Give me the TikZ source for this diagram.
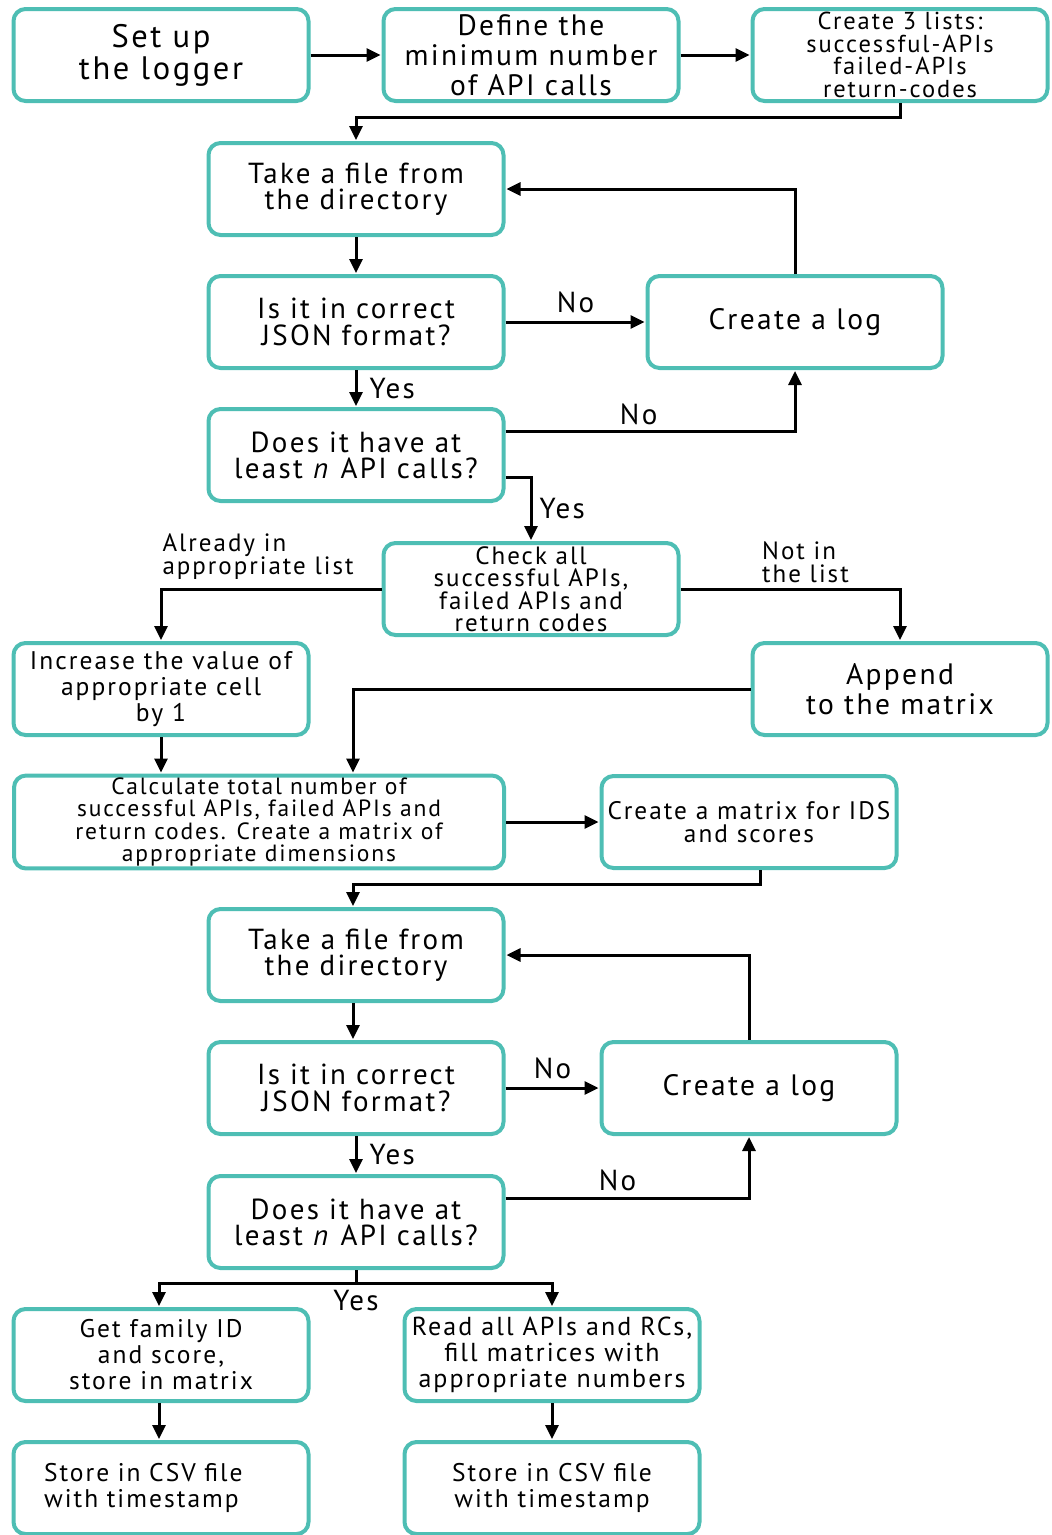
\documentclass[tikz,border=0pt]{standalone}
\usepackage{fontspec}
\setmainfont{PT Sans}[LetterSpace=8]
\usetikzlibrary{arrows.meta,calc}
\definecolor{boxteal}{RGB}{78,190,180}
\newcommand{\fs}[2]{\fontsize{#1}{#2}\selectfont}
\begin{document}
\begin{tikzpicture}[x=1pt,y=-1pt,
  box/.style={draw=boxteal,line width=4pt,rounded corners=12pt,fill=white,
    minimum width=295pt,minimum height=92pt,align=center,inner sep=2pt},
  arr/.style={draw=black,line width=3pt,-{Triangle[length=14pt,width=13pt]},shorten >=1pt},
  lbl/.style={font=\fs{29}{29},inner sep=2pt},
  lblsm/.style={font=\fs{25}{23},inner sep=0pt,align=left}]
\useasboundingbox (0,0) rectangle (1052,1535);

% first pass: collecting API names
\node[box,font=\fs{32.5}{32}] (setup) at (161,55) {Set up\\the logger};
\node[box,font=\fs{29.5}{30}] (define) at (531,55) {Define the\\minimum number\\of API calls};
\node[box,font=\fs{24.5}{22.5}] (lists) at (900,55) {Create 3 lists:\\successful-APIs\\failed-APIs\\return-codes};
\node[box,font=\fs{29}{26}] (take1) at (356,189) {Take a file from\\the directory};
\node[box,font=\fs{29}{27.5}] (json1) at (356,322) {Is it in correct\\JSON format?};
\node[box,font=\fs{29.5}{26}] (log1) at (795,322) {Create a log};
\node[box,font=\fs{29}{26}] (nap1) at (356,455) {Does it have at\\least \textit{n} API calls?};
\node[box,font=\fs{25}{22.5}] (check) at (531,589) {Check all\\successful APIs,\\failed APIs and\\return codes};
\node[box,font=\fs{25.5}{26}] (incr) at (161,689) {Increase the value of\\appropriate cell\\by 1};
\node[box,font=\fs{29.5}{30}] (append) at (900,689) {Append\\to the matrix};
\node[box,font=\fs{23.5}{22.5},minimum width=490pt] (calc) at (259,822) {Calculate total number of\\successful APIs, failed APIs and\\return codes. Create a matrix of\\appropriate dimensions};
\node[box,font=\fs{25.3}{22.5}] (ids) at (749,822) {Create a matrix for IDS\\and scores};

% second pass: filling the matrices
\node[box,font=\fs{29}{26}] (take2) at (356,955) {Take a file from\\the directory};
\node[box,font=\fs{29}{27.5}] (json2) at (356,1088) {Is it in correct\\JSON format?};
\node[box,font=\fs{29.5}{26}] (log2) at (749,1088) {Create a log};
\node[box,font=\fs{29}{26}] (nap2) at (356,1222) {Does it have at\\least \textit{n} API calls?};
\node[box,font=\fs{25.5}{26}] (family) at (161,1355) {Get family ID\\and score,\\store in matrix};
\node[box,font=\fs{26}{26}] (read) at (552,1355) {Read all APIs and RCs,\\fill matrices with\\appropriate numbers};
\node[box,font=\fs{25.5}{26},text width=270pt,align=left] (csv1) at (161,1488) {\hspace*{18pt}Store in CSV file\\\hspace*{18pt}with timestamp};
\node[box,font=\fs{25.5}{26}] (csv2) at (552,1488) {Store in CSV file\\with timestamp};

% branch label that does not sit on a single segment
\node[lblsm,anchor=south west] (lnot) at (762,583) {Not in\\the list};

% connectors, first pass
\draw[arr] (setup) -- (define);
\draw[arr] (define) -- (lists);
\draw[arr] (lists.south) -- ++(0,14) -| (take1.north);
\draw[arr] (take1) -- (json1);
\draw[arr] (json1) -- node[lbl,above,yshift=6pt]{No} (log1);
\draw[arr] (log1.north) |- (take1.east);
\draw[arr] (json1) -- node[lbl,right,xshift=10pt]{Yes} (nap1);
\draw[arr] ($(nap1.east)+(0,-24)$) -| node[lbl,pos=0.23,above,yshift=3pt]{No} (log1.south);
\draw[arr] ($(nap1.east)+(0,22)$) -| node[lbl,pos=0.75,right,xshift=5pt]{Yes} (check.north);
\draw[arr] (check.west) -| node[lblsm,pos=0.5,anchor=south west,yshift=8pt]{Already in\\appropriate list} (incr.north);
\draw[arr] (check.east) -| (append.north);
\draw[arr] (append.west) -| ([xshift=94pt]calc.north);
\draw[arr] (incr) -- (incr.south |- calc.north);
\draw[arr] (calc) -- (ids);
\draw[arr] ([xshift=11pt]ids.south) -- ++(0,14) -| ([xshift=-3pt]take2.north);

% connectors, second pass
\draw[arr] ([xshift=-3pt]take2.south) -- ([xshift=-3pt]json2.north);
\draw[arr] (json2) -- node[lbl,above,yshift=6pt]{No} (log2);
\draw[arr] (log2.north) |- (take2.east);
\draw[arr] (json2) -- node[lbl,right,xshift=10pt]{Yes} (nap2);
\draw[arr] ($(nap2.east)+(0,-24)$) -| node[lbl,pos=0.23,above,yshift=4pt]{No} (log2.south);
\draw[line width=3pt] (nap2.south) -- ++(0,13) coordinate (split);
\draw[arr] (split) -| ([xshift=-2pt]family.north);
\draw[arr] (split) -| node[lbl,pos=0,below,yshift=-4pt]{Yes} (read.north);
\draw[arr] ([xshift=-2pt]family.south) -- ([xshift=-2pt]csv1.north);
\draw[arr] (read) -- (csv2);
\end{tikzpicture}
\end{document}
